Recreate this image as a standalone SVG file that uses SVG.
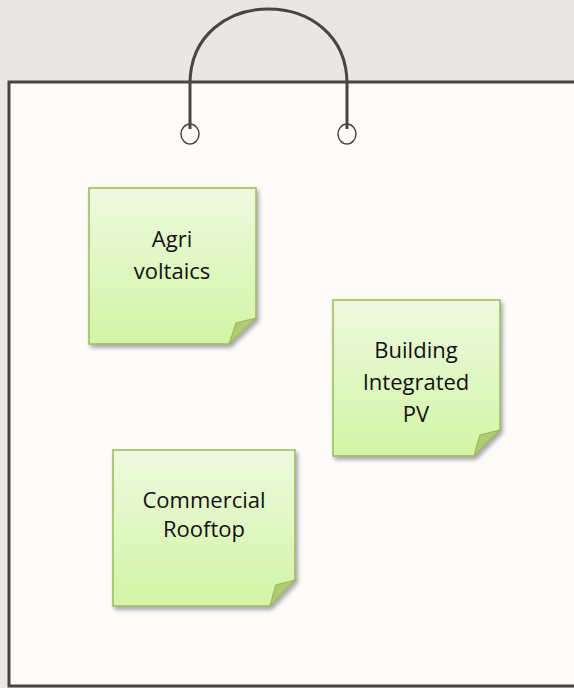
<svg xmlns="http://www.w3.org/2000/svg" width="574" height="688" viewBox="0 0 574 688">
  <defs>
    <linearGradient id="noteFill" x1="0" y1="0" x2="0" y2="1">
      <stop offset="0" stop-color="#edf9de"/>
      <stop offset="1" stop-color="#d3f5a6"/>
    </linearGradient>
    <filter id="noteShadow" x="-10%" y="-10%" width="125%" height="125%">
      <feDropShadow dx="2" dy="3" stdDeviation="2" flood-color="#000" flood-opacity="0.35"/>
    </filter>
    <style>
      .bag { fill: #fdfcfb; stroke: #4a4541; stroke-width: 3; }
      .handle { fill: none; stroke: #4a4541; stroke-width: 3; }
      .ring { fill: none; stroke: #4a4541; stroke-width: 1.5; }
      .note { fill: url(#noteFill); stroke: #9bbb59; stroke-width: 1.5; filter: url(#noteShadow); }
      .fold { fill: #b0cb74; stroke: #9bbb59; stroke-width: 1.2; }
      .label { font-family: "Open Sans", "Liberation Sans", sans-serif; font-size: 22px; fill: #111; text-anchor: middle; }
    </style>
  </defs>

  <!-- backdrop -->
  <rect x="0" y="0" width="574" height="688" fill="#e8e7e6"/>

  <!-- bag body -->
  <rect class="bag" x="9" y="82" width="580" height="604"/>

  <!-- handle -->
  <path class="handle" d="M190,129 V84 C190,-16 347,-16 347,84 V129"/>
  <ellipse class="ring" cx="190" cy="134" rx="9" ry="10"/>
  <ellipse class="ring" cx="347" cy="134" rx="9" ry="10"/>

  <!-- sticky notes -->
  <g id="agri">
    <path class="note" d="M89,188 H256 V318 L229,344 H89 Z"/>
    <path class="fold" d="M256,318 L236,323 Q233,333 229,344 Z"/>
    <text class="label" x="172" y="247">Agri</text>
    <text class="label" x="172" y="279">voltaics</text>
  </g>

  <g id="bipv">
    <path class="note" d="M333,300 H500 V430 L474,456 H333 Z"/>
    <path class="fold" d="M500,430 L480,435 Q477,445 474,456 Z"/>
    <text class="label" x="416" y="358">Building</text>
    <text class="label" x="416" y="390">Integrated</text>
    <text class="label" x="416" y="422">PV</text>
  </g>

  <g id="rooftop">
    <path class="note" d="M113,450 H295 V580 L270,606 H113 Z"/>
    <path class="fold" d="M295,580 L276,585 Q273,595 270,606 Z"/>
    <text class="label" x="204" y="508">Commercial</text>
    <text class="label" x="204" y="537">Rooftop</text>
  </g>

  <g id="connectors"/>
</svg>
